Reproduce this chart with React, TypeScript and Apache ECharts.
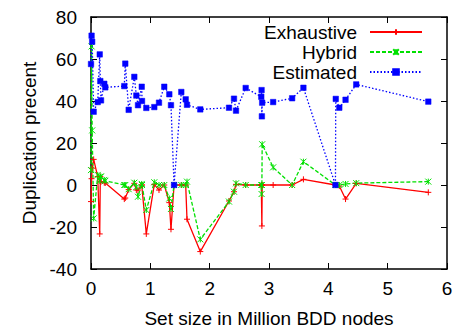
import React, { useEffect, useRef } from "react";
import * as echarts from "echarts";

const xValues = [
  0, 0.01, 0.02, 0.045, 0.113, 0.147, 0.157, 0.169, 0.224, 0.241,
  0.561, 0.578, 0.635, 0.73, 0.764, 0.792, 0.855, 0.86, 0.932, 1.067,
  1.146, 1.235, 1.32, 1.348, 1.4, 1.522, 1.596, 1.618, 1.842, 2.326,
  2.41, 2.444, 2.607, 2.87, 2.875, 2.88, 2.885, 3.07, 3.39, 3.58,
  4.12, 4.125, 4.185, 4.29, 4.47, 5.685,
];

const exhaustive = [
  -7.9, 3, 8, 12.2, 4, -23.3, 4, 1.6, 1.1, 1,
  -6.7, -6.2, -2.2, 0.8, -2.4, -2.4, 0, 0, -23.3, 0.3,
  -2.4, 0, -8.4, -21.1, 0, 0, 0, -16.3, -31.7, -7.6,
  -3.2, 0.3, 0, 0, 0, -19.5, 0, 0, 0, 2.7,
  0, 0, -0.5, -6.7, 0.8, -3.5,
];

const hybrid = [
  7.1, 66, 26, -15.9, 4.8, 2, 4, 4, 2.4, 2,
  0, 0, -2, 1.1, -1, -5.6, 0.5, 0, -11.9, 1.3,
  0, 0, -6.4, -11.4, 0, 0, 0, 1.6, -25.9, -7.9,
  -3.2, 0.8, 0, 0, -4.3, 0, 19.4, 8.4, 0, 11.1,
  0, 0, 0, 0.5, 0.9, 1.6,
];

const estimated = [
  57.6, 71.1, 68.2, 34.9, 39.5, 62.2, 49.5, 40.3, 48.2, 46.5,
  47.1, 57.8, 35.8, 51.5, 42.6, 38, 46.8, 40, 36.7, 37.1,
  39.2, 46.8, 43.2, 38, 0, 44.3, 40.8, 38.2, 36, 36.8,
  41.1, 35.4, 46.2, 42, 45.2, 32.7, 39.2, 39.5, 41.3, 46.3,
  0, 41, 36.8, 40.6, 47.9, 39.7,
];

const seriesNames = ["Exhaustive", "Hybrid", "Estimated"];
const xTitle = "Set size in Million BDD nodes";
const yTitle = "Duplication precent";

const FONT = "'Liberation Sans', Arial, Helvetica, sans-serif";
const FS = 19;

export default function App() {
  const ref = useRef<HTMLDivElement>(null);
  useEffect(() => {
    const chart = echarts.init(ref.current!, null, { renderer: "svg" });
    const zip = (ys: number[]) => xValues.map((x, i) => [x, ys[i]]);
    const plus = "path://M0,5L10,5M5,0L5,10";
    const cross = "path://M0,0L10,10M10,0L0,10M5,0L5,10";
    const lineAxis = { onZero: false, lineStyle: { color: "#000", width: 1.5 } };
    const tick = { inside: true, length: 6, lineStyle: { color: "#000", width: 1 } };
    const label = { color: "#000", fontSize: FS, fontFamily: FONT };
    chart.setOption({
      animation: false,
      grid: { left: 91, right: 9, top: 17, bottom: 67 },
      xAxis: [
        {
          type: "value", min: 0, max: 6, interval: 1, position: "bottom",
          name: xTitle, nameLocation: "middle", nameGap: 40,
          nameTextStyle: { ...label },
          axisLine: lineAxis, axisTick: tick,
          axisLabel: { ...label, margin: 10 },
          splitLine: { show: false },
        },
        {
          type: "value", min: 0, max: 6, interval: 1, position: "top",
          axisLine: lineAxis, axisTick: tick,
          axisLabel: { show: false }, splitLine: { show: false },
        },
      ],
      yAxis: [
        {
          type: "value", min: -40, max: 80, interval: 20, position: "left",
          name: yTitle, nameLocation: "middle", nameGap: 50,
          nameTextStyle: { ...label },
          axisLine: lineAxis, axisTick: tick,
          axisLabel: { ...label, margin: 14 },
          splitLine: { show: false },
        },
        {
          type: "value", min: -40, max: 80, interval: 20, position: "right",
          axisLine: lineAxis, axisTick: tick,
          axisLabel: { show: false }, splitLine: { show: false },
        },
      ],
      legend: {
        orient: "vertical", right: 33, top: 22, padding: 0, align: "right",
        itemWidth: 52, itemHeight: 7, itemGap: 0,
        textStyle: { ...label, lineHeight: 20, padding: [0, 8, 0, 0] },
        data: seriesNames,
      },
      series: [
        {
          name: seriesNames[0], type: "line", data: zip(exhaustive),
          symbol: plus, symbolSize: 6,
          lineStyle: { color: "#ff0000", width: 1.3, type: "solid" },
          itemStyle: { color: "#ff0000", borderColor: "#ff0000", borderWidth: 1 },
        },
        {
          name: seriesNames[1], type: "line", data: zip(hybrid),
          symbol: cross, symbolSize: 6,
          lineStyle: { color: "#00e000", width: 1.3, type: [4, 2] },
          itemStyle: { color: "#00e000", borderColor: "#00e000", borderWidth: 1 },
        },
        {
          name: seriesNames[2], type: "line", data: zip(estimated),
          symbol: "rect", symbolSize: 5.5,
          lineStyle: { color: "#0000ff", width: 1.3, type: [1.5, 2] },
          itemStyle: { color: "#0000ff", borderColor: "#0000ff", borderWidth: 0.5 },
        },
      ],
    });
    return () => chart.dispose();
  }, []);
  return (
    <div
      ref={ref}
      style={{ position: "absolute", left: 0, top: 0, width: 456, height: 336, background: "#fff" }}
    />
  );
}
